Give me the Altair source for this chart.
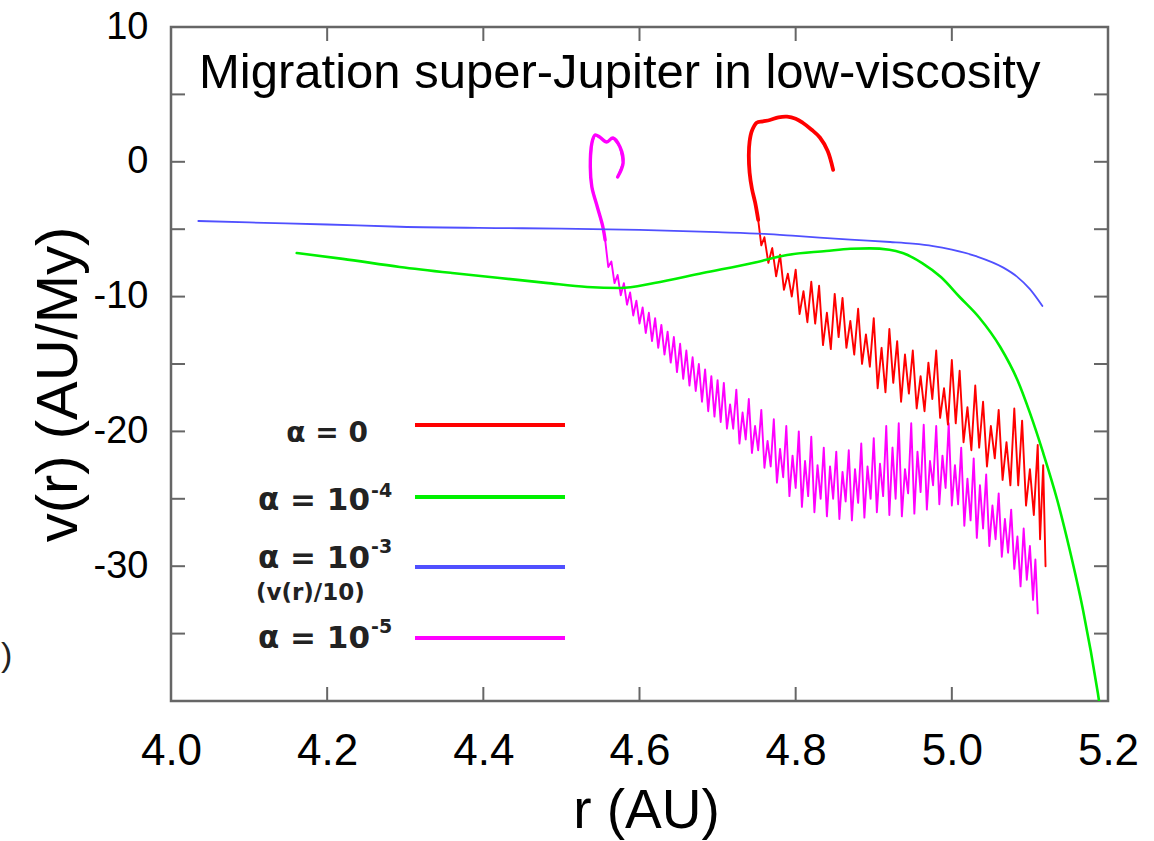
import altair as alt
import pandas as pd

# ---------------- data ----------------
# alpha = 0 (red), in time order (starts at r~5.12, ends on the hook)
red_r = [5.120, 5.117, 5.113, 5.110, 5.105, 5.100, 5.095, 5.090, 5.085, 5.080,
         5.075, 5.070, 5.065, 5.060, 5.055, 5.050, 5.045, 5.040, 5.035, 5.030,
         5.025, 5.020, 5.015, 5.010, 5.005, 5.000, 4.995, 4.990, 4.985, 4.980,
         4.975, 4.970, 4.965, 4.960, 4.955, 4.950, 4.945, 4.940, 4.935, 4.930,
         4.925, 4.920, 4.915, 4.910, 4.905, 4.900, 4.895, 4.890, 4.885, 4.880,
         4.875, 4.870, 4.865, 4.860, 4.855, 4.850, 4.845, 4.840, 4.835, 4.830,
         4.825, 4.820, 4.815, 4.810, 4.805, 4.800, 4.795, 4.790, 4.785, 4.780,
         4.775, 4.770, 4.765, 4.760, 4.756, 4.752, 4.748, 4.744, 4.741, 4.740,
         4.741, 4.744, 4.750, 4.758, 4.767, 4.778, 4.789, 4.800, 4.809, 4.820,
         4.831, 4.841, 4.848]
red_v = [-30.0, -22.5, -28.0, -21.0, -26.2, -22.8, -25.5, -19.2, -24.0, -18.3,
         -24.0, -20.8, -23.6, -18.4, -22.0, -19.6, -22.6, -17.8, -21.2, -16.6,
         -21.4, -18.2, -20.8, -15.5, -19.4, -14.7, -19.5, -16.8, -19.0, -14.0,
         -17.6, -14.9, -18.5, -15.9, -18.3, -14.0, -17.2, -14.3, -17.8, -13.3,
         -16.4, -12.4, -17.1, -13.8, -16.8, -11.6, -15.2, -12.8, -15.0, -10.9,
         -14.3, -11.8, -13.8, -10.1, -13.0, -9.8, -13.9, -11.2, -13.6, -9.2,
         -12.0, -8.9, -11.9, -9.6, -11.3, -8.0, -10.0, -8.3, -9.5, -6.9,
         -8.5, -6.4, -7.5, -5.6, -6.2, -4.3, -3.0, -2.0, -0.8, 0.5,
         1.5, 2.3, 2.9, 3.0, 3.1, 3.3, 3.35, 3.2, 2.9, 2.4,
         1.8, 0.8, -0.6]

# alpha = 1e-4 (green)
green_r = [4.161, 4.220, 4.293, 4.360, 4.421, 4.480, 4.533, 4.575, 4.619, 4.681,
           4.745, 4.789, 4.839, 4.870, 4.895, 4.920, 4.937, 4.962, 4.986, 5.010,
           5.035, 5.062, 5.084, 5.100, 5.117, 5.135, 5.151, 5.168, 5.187, 5.195]
green_v = [-6.77, -7.20, -7.80, -8.25, -8.62, -8.98, -9.29, -9.36, -8.99, -8.25,
           -7.51, -6.91, -6.62, -6.45, -6.42, -6.52, -6.77, -7.51, -8.55, -10.03,
           -11.55, -13.74, -16.19, -18.63, -21.60, -25.09, -28.80, -33.25, -39.41, -42.5]

# alpha = 1e-3 (blue), shown as v(r)/10
blue_r = [4.035, 4.100, 4.200, 4.293, 4.450, 4.600, 4.700, 4.760, 4.800, 4.870,
          4.921, 4.950, 4.976, 5.000, 5.032, 5.066, 5.083, 5.100, 5.116]
blue_v = [-4.39, -4.50, -4.65, -4.82, -4.93, -5.05, -5.22, -5.35, -5.50, -5.78,
          -5.95, -6.07, -6.25, -6.52, -7.02, -7.85, -8.50, -9.45, -10.70]

# alpha = 1e-5 (magenta), in time order
mag_r = [5.110, 5.107, 5.104, 5.100, 5.096, 5.092, 5.088, 5.084, 5.080, 5.076,
         5.072, 5.068, 5.064, 5.060, 5.056, 5.052, 5.048, 5.044, 5.040, 5.036,
         5.032, 5.028, 5.024, 5.020, 5.016, 5.012, 5.008, 5.004, 5.000, 4.996,
         4.992, 4.988, 4.984, 4.980, 4.976, 4.972, 4.968, 4.964, 4.960, 4.956,
         4.952, 4.948, 4.944, 4.940, 4.936, 4.932, 4.928, 4.924, 4.920, 4.916,
         4.912, 4.908, 4.904, 4.900, 4.896, 4.892, 4.888, 4.884, 4.880, 4.876,
         4.872, 4.868, 4.864, 4.860, 4.856, 4.852, 4.848, 4.844, 4.840, 4.836,
         4.832, 4.828, 4.824, 4.820, 4.816, 4.812, 4.808, 4.804, 4.800, 4.796,
         4.792, 4.788, 4.784, 4.780, 4.776, 4.772, 4.768, 4.764, 4.760, 4.756,
         4.752, 4.748, 4.744, 4.740, 4.736, 4.732, 4.728, 4.724, 4.720, 4.716,
         4.712, 4.708, 4.704, 4.700, 4.696, 4.692, 4.688, 4.684, 4.680, 4.676,
         4.672, 4.668, 4.664, 4.660, 4.656, 4.652, 4.648, 4.644, 4.640, 4.636,
         4.632, 4.628, 4.624, 4.620, 4.616, 4.612, 4.608, 4.604, 4.600, 4.596,
         4.592, 4.588, 4.584, 4.580, 4.576, 4.572, 4.568, 4.564, 4.560, 4.556,
         4.553, 4.546, 4.539, 4.537, 4.539, 4.543, 4.549, 4.558, 4.566, 4.575,
         4.579, 4.572]
mag_v = [-33.5, -29.5, -32.5, -28.5, -31.0, -27.2, -31.5, -27.8, -30.2, -25.8,
         -29.0, -26.5, -29.3, -24.6, -28.0, -25.5, -28.5, -23.2, -27.2, -24.0,
         -27.9, -22.0, -26.6, -23.5, -27.0, -21.2, -25.4, -22.5, -25.5, -19.4,
         -24.2, -21.8, -25.4, -19.6, -24.0, -22.2, -25.8, -19.5, -24.5, -21.5,
         -26.1, -19.4, -24.6, -22.8, -26.3, -19.4, -25.0, -21.2, -26.2, -19.6,
         -24.8, -22.4, -26.0, -20.5, -25.0, -22.6, -26.4, -20.9, -25.3, -22.8,
         -26.6, -21.4, -25.2, -23.0, -26.5, -21.5, -25.0, -22.6, -26.3, -21.2,
         -25.0, -22.5, -26.0, -20.4, -24.8, -22.2, -25.6, -20.0, -24.2, -21.8,
         -24.8, -19.6, -23.4, -21.3, -23.8, -19.1, -22.6, -20.7, -22.7, -18.4,
         -21.4, -19.6, -21.6, -17.6, -20.6, -18.6, -20.9, -16.9, -19.8, -18.0,
         -19.8, -16.4, -19.3, -16.2, -18.9, -15.9, -18.5, -15.4, -17.8, -15.0,
         -17.0, -14.5, -16.6, -14.0, -16.1, -13.5, -15.6, -13.0, -14.9, -12.6,
         -14.3, -12.1, -13.8, -11.6, -13.3, -11.2, -12.7, -10.8, -12.0, -10.3,
         -11.4, -9.7, -10.6, -9.0, -9.9, -8.4, -9.0, -7.4, -7.8, -5.8,
         -4.8, -3.35, -1.87, -0.39, 1.39, 1.99, 1.84, 1.47, 1.77, 1.10,
         -0.09, -1.13]

x_label_vals = [4.0, 4.2, 4.4, 4.6, 4.8, 5.0, 5.2]
x_tick_vals = [4.2, 4.4, 4.6, 4.8, 5.0]
y_label_vals = [10, 0, -10, -20, -30]
y_tick_vals = [5, 0, -5, -10, -15, -20, -25, -30, -35]

title_text = "Migration super-Jupiter in low-viscosity"
legend_main = ["α = 0", "α = 10", "α = 10", "α = 10"]
legend_sup = ["-4", "-3", "-5"]
legend_sub = "(v(r)/10)"
legend_colors = ["#ff0000", "#00f000", "#5050ff", "#ff00ff"]

assert len(red_r) == len(red_v) and len(mag_r) == len(mag_v)
assert len(green_r) == len(green_v) and len(blue_r) == len(blue_v)

# ---------------- layout ----------------
W, H = 937, 674
LEFT, TOP = 171, 27
X_DOM = [4.0, 5.2]
Y_DOM = [-40.0, 10.0]
FONT = "Liberation Sans"
LFONT = "DejaVu Sans"
FRAME = "#666666"
TICK = 14
RED_HOOK_FROM = 75      # index where the red track turns into its (thick) hook
MAG_HOOK_FROM = 139     # index where the magenta track turns into its hook


def px_r(px):
    return X_DOM[0] + (px - LEFT) / W * (X_DOM[1] - X_DOM[0])


def px_v(py):
    return Y_DOM[1] - (py - TOP) / H * (Y_DOM[1] - Y_DOM[0])


xs = alt.Scale(domain=X_DOM, nice=False, zero=False)
ys = alt.Scale(domain=Y_DOM, nice=False, zero=False)

x_axis = alt.Axis(values=x_label_vals, labelExpr="format(datum.value, '.1f')",
                  title="r (AU)", ticks=False, tickSize=0, domain=False, grid=False,
                  labelFont=FONT, labelFontSize=44, labelColor="black", labelPadding=28,
                  labelFlush=False, labelOverlap=False,
                  titleFont=FONT, titleFontSize=55, titleFontWeight="normal",
                  titleColor="black", titleX=475, titleY=126,
                  titleBaseline="alphabetic", titleAlign="center")
y_axis = alt.Axis(values=y_label_vals, labelExpr="'' + datum.value",
                  title="v(r) (AU/My)", ticks=False, tickSize=0, domain=False, grid=False,
                  labelFont=FONT, labelFontSize=38, labelColor="black", labelPadding=23,
                  labelFlush=False, labelOverlap=False,
                  titleFont=FONT, titleFontSize=58, titleFontWeight="normal",
                  titleColor="black", titleAngle=270, titleX=-83, titleY=357,
                  titleBaseline="bottom", titleAlign="center")

X = alt.X("r:Q", scale=xs, axis=x_axis)
Y = alt.Y("v:Q", scale=ys, axis=y_axis)


def line_layer(r, v, color, width, interp="linear"):
    df = pd.DataFrame({"r": r, "v": v, "k": list(range(len(r)))})
    return alt.Chart(df).mark_line(color=color, strokeWidth=width, clip=True,
                                   strokeJoin="round", strokeCap="round",
                                   interpolate=interp).encode(x=X, y=Y, order="k:Q")


mag = line_layer(mag_r, mag_v, legend_colors[3], 1.9)
mag_hook = line_layer(mag_r[MAG_HOOK_FROM:], mag_v[MAG_HOOK_FROM:],
                      legend_colors[3], 3.4, "catmull-rom")
red = line_layer(red_r, red_v, legend_colors[0], 1.9)
red_hook = line_layer(red_r[RED_HOOK_FROM:], red_v[RED_HOOK_FROM:],
                      legend_colors[0], 3.8, "catmull-rom")
green = line_layer(green_r, green_v, legend_colors[1], 2.6, "monotone")
blue = line_layer(blue_r, blue_v, legend_colors[2], 1.8, "monotone")

# inward ticks
xt = pd.DataFrame({"r": x_tick_vals})
yt = pd.DataFrame({"v": y_tick_vals})
tick_b = alt.Chart(xt).mark_rule(color=FRAME, strokeWidth=2).encode(
    x=X, y=alt.value(H), y2=alt.value(H - TICK))
tick_t = alt.Chart(xt).mark_rule(color=FRAME, strokeWidth=2).encode(
    x=X, y=alt.value(0), y2=alt.value(TICK))
tick_l = alt.Chart(yt).mark_rule(color=FRAME, strokeWidth=2).encode(
    y=Y, x=alt.value(0), x2=alt.value(TICK))
tick_r = alt.Chart(yt).mark_rule(color=FRAME, strokeWidth=2).encode(
    y=Y, x=alt.value(W), x2=alt.value(W - TICK))

# in-plot title
title_df = pd.DataFrame({"r": [px_r(199)], "v": [px_v(88)], "t": [title_text]})
title = alt.Chart(title_df).mark_text(align="left", baseline="alphabetic", font=FONT,
                                      fontSize=49, color="black").encode(x=X, y=Y, text="t:N")

# custom legend
leg_lines = pd.DataFrame({
    "r": [px_r(415)] * 4, "r2": [px_r(565)] * 4,
    "v": [px_v(425), px_v(497), px_v(567), px_v(638)],
    "c": legend_colors,
})
leg_line = alt.Chart(leg_lines).mark_rule(strokeWidth=4).encode(
    x=X, x2="r2:Q", y=Y, color=alt.Color("c:N", scale=None))

leg0 = pd.DataFrame({"r": [px_r(368)], "v": [px_v(442)], "t": [legend_main[0]]})
leg0_t = alt.Chart(leg0).mark_text(align="right", baseline="alphabetic", font=LFONT,
                                   fontWeight="bold", fontSize=28, color="#222222").encode(
    x=X, y=Y, text="t:N")
legm = pd.DataFrame({"r": [px_r(370)] * 3,
                     "v": [px_v(510), px_v(568), px_v(648)],
                     "t": legend_main[1:]})
legm_t = alt.Chart(legm).mark_text(align="right", baseline="alphabetic", font=LFONT,
                                   fontWeight="bold", fontSize=31, color="#222222").encode(
    x=X, y=Y, text="t:N")
legs = pd.DataFrame({"r": [px_r(371)] * 3,
                     "v": [px_v(497), px_v(553), px_v(633)],
                     "t": legend_sup})
legs_t = alt.Chart(legs).mark_text(align="left", baseline="alphabetic", font=LFONT,
                                   fontWeight="bold", fontSize=19, color="#222222").encode(
    x=X, y=Y, text="t:N")
legb = pd.DataFrame({"r": [px_r(256)], "v": [px_v(600)], "t": [legend_sub]})
legb_t = alt.Chart(legb).mark_text(align="left", baseline="alphabetic", font=LFONT,
                                   fontWeight="bold", fontSize=23, color="#222222").encode(
    x=X, y=Y, text="t:N")

# fragment of a neighbouring panel's label at the far left edge
frag = pd.DataFrame({"r": [px_r(1)], "v": [px_v(666)], "t": [")"]})
frag_t = alt.Chart(frag).mark_text(align="left", baseline="alphabetic", font=FONT,
                                   fontSize=34, color="#222222").encode(x=X, y=Y, text="t:N")

chart = alt.layer(
    mag, mag_hook, red, red_hook, green, blue,
    tick_b, tick_t, tick_l, tick_r,
    title, leg_line, leg0_t, legm_t, legs_t, legb_t, frag_t,
).properties(
    width=W, height=H,
    autosize=alt.AutoSizeParams(type="none"),
    padding={"left": LEFT, "top": TOP, "right": 1154 - LEFT - W, "bottom": 841 - TOP - H},
    background="white",
).configure_view(stroke=FRAME, strokeWidth=2.5)

chart.save("out.html", embed_options={"renderer": "svg", "actions": False})
